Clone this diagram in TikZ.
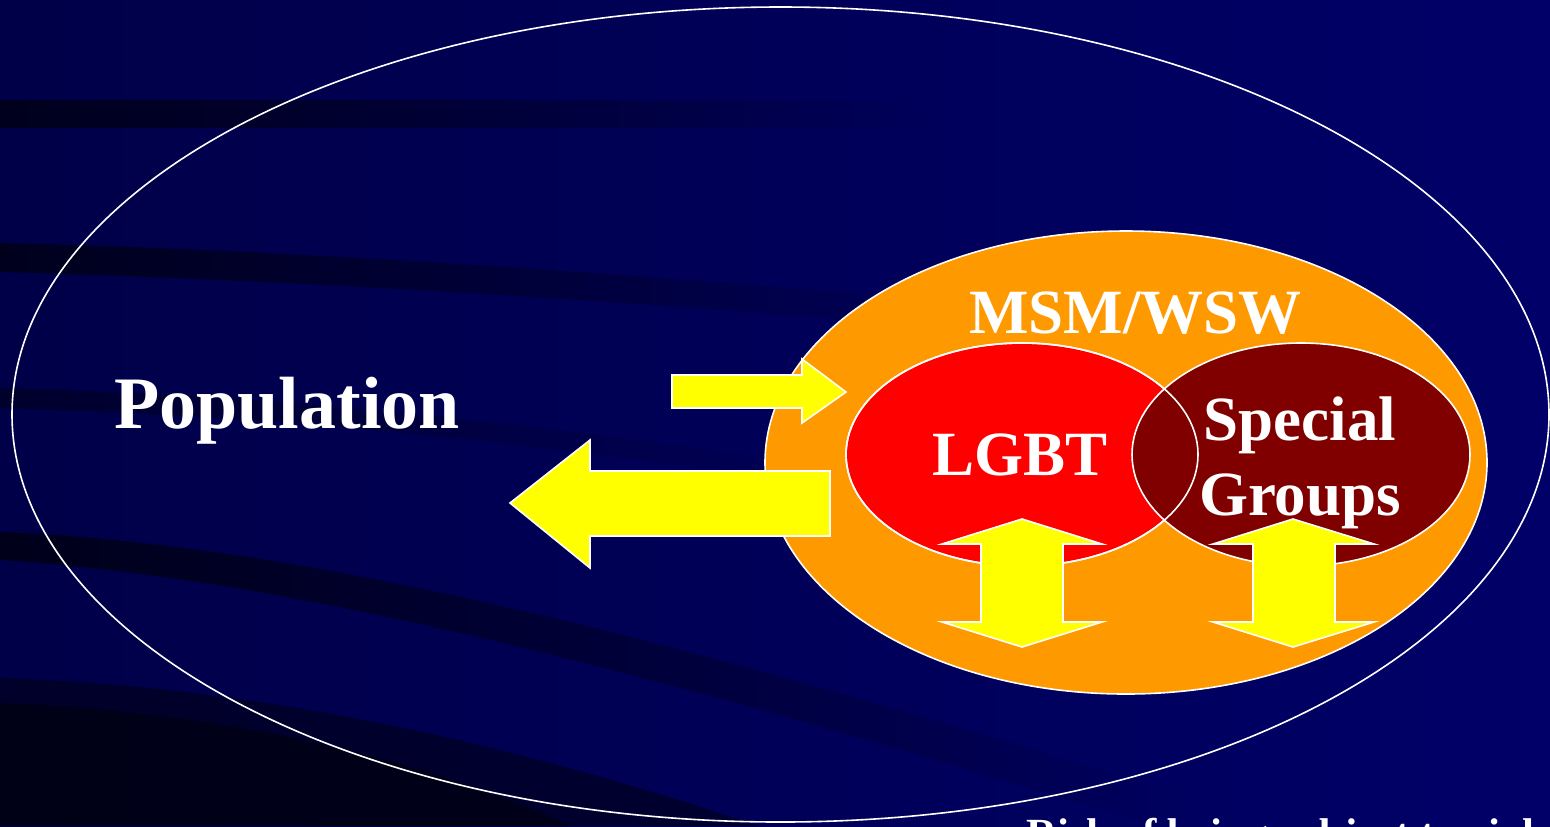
\documentclass[tikz,border=0pt]{standalone}
\usepackage{fontspec}
\setmainfont{Liberation Serif}
\usetikzlibrary{fadings}
\tikzfading[name=fadeR, left color=transparent!0, right color=transparent!100]
\definecolor{bgL}{RGB}{0,0,72}
\definecolor{bgR}{RGB}{0,0,104}
\definecolor{band}{RGB}{0,0,22}
\definecolor{orng}{RGB}{255,153,0}
\definecolor{dred}{RGB}{128,0,0}
\definecolor{ylw}{RGB}{255,255,0}
\begin{document}
\begin{tikzpicture}[x=0.5pt,y=-0.5pt,
  outline/.style={draw=white, line width=0.8pt},
  blockarrow/.style={fill=ylw, draw=white, line width=0.8pt, line join=miter},
  darkband/.style={fill=band, path fading=fadeR},
  txt/.style={text=white, inner sep=0pt, anchor=base},
  bigtxt/.style={txt, font=\bfseries\fontsize{31.5}{37.5}\selectfont}]
\useasboundingbox (0,0) rectangle (1550,826);
\clip (0,0) rectangle (1550,826);
% background
\shade[left color=bgL, right color=bgR] (0,0) rectangle (1550,826);
% dark bands
\fill[darkband, fill opacity=0.85] (0,100) rectangle (950,128);
\fill[darkband, fill opacity=0.85] (0,243) .. controls (300,250) and (650,275) .. (1000,305) -- (1000,332) .. controls (650,302) and (300,280) .. (0,272) -- cycle;
\fill[darkband, fill opacity=0.55] (0,388) .. controls (300,396) and (550,425) .. (850,470) -- (850,490) .. controls (550,445) and (300,416) .. (0,408) -- cycle;
\fill[darkband, fill opacity=0.9] (0,532) .. controls (300,545) and (650,630) .. (1200,800) -- (1200,840) .. controls (650,670) and (300,580) .. (0,560) -- cycle;
\fill[band, fill opacity=0.6] (0,678) .. controls (300,688) and (560,760) .. (760,826) -- (0,826) -- cycle;
\fill[band, fill opacity=0.9] (0,703) .. controls (250,712) and (450,770) .. (570,826) -- (0,826) -- cycle;
% ellipses
\draw[outline] (780.5,414.5) ellipse [x radius=768.5, y radius=407.5];
\draw[outline, fill=orng] (1126,462.5) ellipse [x radius=361, y radius=231.5];
\draw[outline, fill=red] (1022,454.5) ellipse [x radius=176, y radius=111.5];
\draw[outline, fill=dred] (1301,454.5) ellipse [x radius=169, y radius=111.5];
\draw[outline] (1022,454.5) ellipse [x radius=176, y radius=111.5];
% block arrows
\draw[blockarrow] (672,375) -- (802,375) -- (802,359) -- (846,392) -- (802,423) -- (802,408) -- (672,408) -- cycle;
\draw[blockarrow] (830,471) -- (590,471) -- (590,440) -- (510,503) -- (590,568) -- (590,536) -- (830,536) -- cycle;
\draw[blockarrow] (1022,519) -- (1102,544) -- (1063,544) -- (1063,622) -- (1102,622) -- (1022,647) -- (942,622) -- (981,622) -- (981,544) -- (942,544) -- cycle;
\draw[blockarrow] (1293,519) -- (1374,544) -- (1335,544) -- (1335,622) -- (1374,622) -- (1293,647) -- (1213,622) -- (1253,622) -- (1253,544) -- (1213,544) -- cycle;
% texts
\node[txt, font=\bfseries\fontsize{37}{44}\selectfont] (pop) at (287,428) {Population};
\node[bigtxt] (msm) at (1135.5,333) {MSM/WSW};
\node[bigtxt] (lgbt) at (1020,475) {LGBT};
\node[bigtxt] (special) at (1300,440) {Special};
\node[bigtxt] (groups) at (1300,515) {Groups};
\node[txt, anchor=base west, font=\bfseries\fontsize{21.5}{26}\selectfont] (risk) at (1026,848) {Risk of being subject to violence};
\end{tikzpicture}
\end{document}
